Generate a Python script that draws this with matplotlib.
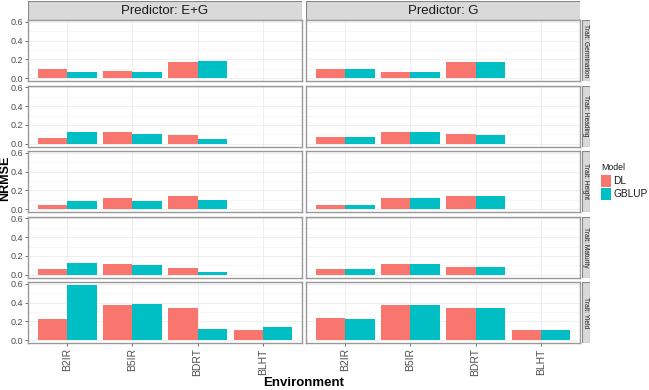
import matplotlib
matplotlib.use('Agg')
import matplotlib.pyplot as plt
from matplotlib.patches import Rectangle
import numpy as np

plt.rcParams['font.family'] = ['Liberation Sans', 'DejaVu Sans']

# %% data
envs = ['B2IR', 'B5IR', 'BDRT', 'BLHT']
traits = ['Germination', 'Heading', 'Height', 'Maturity', 'Yield']
predictors = ['E+G', 'G']
nan = np.nan

# rows = traits, columns = envs
dl_eg = [[0.100, 0.074, 0.172, nan],
         [0.056, 0.120, 0.095, nan],
         [0.049, 0.120, 0.140, nan],
         [0.060, 0.117, 0.074, nan],
         [0.226, 0.371, 0.343, 0.110]]
gblup_eg = [[0.070, 0.067, 0.186, nan],
            [0.120, 0.106, 0.053, nan],
            [0.088, 0.084, 0.100, nan],
            [0.124, 0.106, 0.028, nan],
            [0.590, 0.382, 0.120, 0.141]]
dl_g = [[0.098, 0.070, 0.172, nan],
        [0.070, 0.120, 0.102, nan],
        [0.049, 0.116, 0.140, nan],
        [0.064, 0.117, 0.078, nan],
        [0.240, 0.374, 0.343, 0.113]]
gblup_g = [[0.098, 0.070, 0.172, nan],
           [0.067, 0.120, 0.095, nan],
           [0.046, 0.116, 0.140, nan],
           [0.064, 0.117, 0.078, nan],
           [0.230, 0.374, 0.343, 0.113]]

models = ['DL', 'GBLUP']
colors = {'DL': '#F8766D', 'GBLUP': '#00BFC4'}
series = {'E+G': {'DL': dl_eg, 'GBLUP': gblup_eg},
          'G': {'DL': dl_g, 'GBLUP': gblup_g}}

W, H = 649, 390
fig = plt.figure(figsize=(W / 100, H / 100), dpi=100)

def px(x0, y0, x1, y1):
    return [x0 / W, 1 - y1 / H, (x1 - x0) / W, (y1 - y0) / H]

col_x = [(28, 302), (306, 580)]
row_top = 20
row_h = 61
row_step = 65.5
txt = '#4D4D4D'
strip_bg = '#D9D9D9'
border = '#999999'

x = np.arange(len(envs))
bw = 0.45

for ci, pred in enumerate(predictors):
    x0, x1 = col_x[ci]
    # top strip
    sax = fig.add_axes(px(x0, 0.5, x1, row_top))
    sax.add_patch(Rectangle((0, 0), 1, 1, facecolor=strip_bg, edgecolor='#888888',
                            lw=0.8, transform=sax.transAxes))
    sax.text(0.5, 0.45, 'Predictor: ' + pred, ha='center', va='center',
             fontsize=9.5, color='#1A1A1A', transform=sax.transAxes)
    sax.axis('off')
    for ri, trait in enumerate(traits):
        y0 = row_top + ri * row_step
        ax = fig.add_axes(px(x0, y0, x1, y0 + row_h))
        for mi, m in enumerate(models):
            vals = np.array(series[pred][m][ri])
            ax.bar(x + (mi - 0.5) * bw, vals, width=bw, color=colors[m], zorder=3)
        ax.set_xlim(-0.6, 3.6)
        ax.set_ylim(-0.0295, 0.6195)
        ax.set_yticks([0.0, 0.2, 0.4, 0.6])
        ax.set_yticks([0.1, 0.3, 0.5], minor=True)
        ax.set_xticks(x)
        ax.grid(which='major', color='#EBEBEB', lw=0.6, zorder=0)
        ax.grid(which='minor', axis='y', color='#F2F2F2', lw=0.4, zorder=0)
        ax.tick_params(which='minor', length=0)
        ax.tick_params(which='major', length=2.5, width=0.5, color='#333333',
                       labelcolor=txt, pad=1.2)
        ax.tick_params(axis='y', labelsize=6.5)
        ax.tick_params(axis='x', labelsize=7.5)
        for s in ax.spines.values():
            s.set_color(border)
            s.set_linewidth(1.0)
        if ci == 0:
            ax.set_yticklabels(['0.0', '0.2', '0.4', '0.6'])
        else:
            ax.tick_params(axis='y', labelleft=False, length=0)
        if ri == len(traits) - 1:
            ax.set_xticklabels(envs, rotation=90)
        else:
            ax.tick_params(axis='x', labelbottom=False, length=0)
        if ci == 1:
            rax = fig.add_axes(px(581.5, y0, 590, y0 + row_h))
            rax.add_patch(Rectangle((0, 0), 1, 1, facecolor=strip_bg, edgecolor='#888888',
                                    lw=0.8, transform=rax.transAxes))
            rax.text(0.5, 0.5, 'Trait: ' + trait, ha='center', va='center',
                     rotation=-90, fontsize=4.8, color='#1A1A1A',
                     transform=rax.transAxes)
            rax.axis('off')

fig.text(5.5 / W, 1 - 178 / H, 'NRMSE', rotation=90, ha='center', va='center',
         fontsize=9, fontweight='bold')
fig.text(304 / W, 1 - 383 / H, 'Environment', ha='center', va='center',
         fontsize=9.5, fontweight='bold')

# legend
fig.text(601 / W, 1 - 167 / H, 'Model', ha='left', va='center', fontsize=6.3,
         color='#1A1A1A')
for mi, m in enumerate(models):
    yc = 181 + mi * 13
    fig.patches.append(Rectangle((601 / W, 1 - (yc + 6) / H), 10 / W, 12 / H,
                                 facecolor=colors[m], edgecolor='none',
                                 transform=fig.transFigure, figure=fig))
    fig.text(613 / W, 1 - yc / H, m, ha='left', va='center', fontsize=7.3,
             color='#1A1A1A')

fig.savefig('out.png', dpi=100)
